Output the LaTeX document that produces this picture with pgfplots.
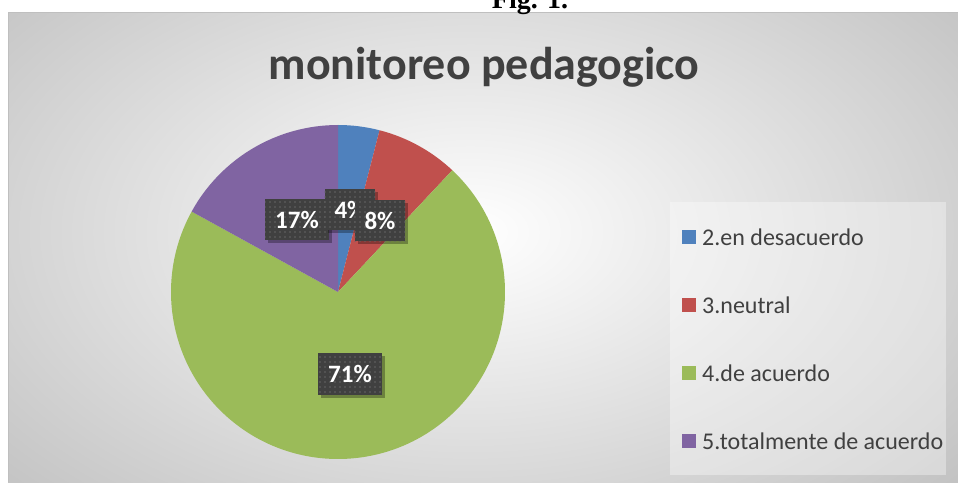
\documentclass[border=0pt]{standalone}
\usepackage{pgfplots}
\pgfplotsset{compat=1.18}
\usepackage{pgfplotstable}
\usepackage{fontspec}
\setmainfont{Carlito}
\newfontfamily\figfont{Liberation Serif}
\usetikzlibrary{shadows,patterns.meta}
\definecolor{pieblue}{HTML}{4F81BD}
\definecolor{piered}{HTML}{C0504D}
\definecolor{piegreen}{HTML}{9BBB59}
\definecolor{piepurple}{HTML}{8064A2}
\definecolor{txtgray}{HTML}{404040}
\definecolor{boxgray}{HTML}{404040}

\pgfplotstableread{
label value
{2.en desacuerdo} 4
{3.neutral} 8
{4.de acuerdo} 71
{5.totalmente de acuerdo} 17
}\piedata
\pgfplotstablegetelem{0}{value}\of\piedata \let\vA\pgfplotsretval
\pgfplotstablegetelem{1}{value}\of\piedata \let\vB\pgfplotsretval
\pgfplotstablegetelem{2}{value}\of\piedata \let\vC\pgfplotsretval
\pgfplotstablegetelem{3}{value}\of\piedata \let\vD\pgfplotsretval
\pgfmathsetmacro\aA{90}
\pgfmathsetmacro\aB{\aA-3.6*\vA}
\pgfmathsetmacro\aC{\aB-3.6*\vB}
\pgfmathsetmacro\aD{\aC-3.6*\vC}
\pgfmathsetmacro\aE{\aD-3.6*\vD}

\begin{document}
\begin{tikzpicture}[
  lbl/.style={fill=boxgray, text=white, font=\bfseries\fontsize{25}{28}\selectfont,
    minimum height=41pt, inner xsep=10pt, inner ysep=0pt,
    drop shadow={shadow xshift=3pt, shadow yshift=-3pt, fill=black, opacity=0.3},
    postaction={pattern={Dots[distance=5pt, radius=0.8pt]}, pattern color=black!60}}]
\useasboundingbox (0,0) rectangle (958pt,482pt);
\clip (0,0) rectangle (958pt,482pt);
\fill[white] (0,0) rectangle (958pt,482pt);
\begin{axis}[
  at={(0,0)}, anchor=origin,
  scale only axis, width=958pt, height=482pt,
  xmin=0, xmax=958, ymin=0, ymax=482,
  hide axis, clip=false]
% background
\begin{scope}
\clip (axis cs:8,0) rectangle (axis cs:958,469);
\shade[inner color=white, outer color=black!24] (axis cs:-180,-140) rectangle (axis cs:1120,640);
\end{scope}
\draw[black!25, line width=1pt] (axis cs:8,0) -- (axis cs:8,469) -- (axis cs:958,469);
% figure caption (cut off at the top)
\node[anchor=base, font=\figfont\bfseries\fontsize{28}{30}\selectfont] at (axis cs:530,473) {Fig. 1.};
% title
\node[anchor=base, text=txtgray, font=\bfseries\fontsize{46}{50}\selectfont] at (axis cs:484,402) {monitoreo pedagogico};
% pie
\fill[pieblue]   (axis cs:338,190) -- ++(\aA:167pt) arc[start angle=\aA, end angle=\aB, radius=167pt] -- cycle;
\fill[piered]    (axis cs:338,190) -- ++(\aB:167pt) arc[start angle=\aB, end angle=\aC, radius=167pt] -- cycle;
\fill[piegreen]  (axis cs:338,190) -- ++(\aC:167pt) arc[start angle=\aC, end angle=\aD, radius=167pt] -- cycle;
\fill[piepurple] (axis cs:338,190) -- ++(\aD:167pt) arc[start angle=\aD, end angle=\aE, radius=167pt] -- cycle;
% data labels
\node[lbl] at (axis cs:297,262) {\vD\%};
\node[lbl] at (axis cs:350,272) {\vA\%};
\node[lbl] at (axis cs:380,261) {\vB\%};
\node[lbl] at (axis cs:350,108) {\vC\%};
% legend
\fill[white, opacity=0.35] (axis cs:670,7) rectangle (axis cs:946,280);
\fill[pieblue]   (axis cs:682,238) rectangle (axis cs:696,252);
\fill[piered]    (axis cs:682,170) rectangle (axis cs:696,184);
\fill[piegreen]  (axis cs:682,102) rectangle (axis cs:696,116);
\fill[piepurple] (axis cs:682,34)  rectangle (axis cs:696,48);
\begin{scope}[every node/.style={anchor=west, text=txtgray, font=\fontsize{24}{28}\selectfont, inner sep=0pt}]
\node at (axis cs:702,245) {2.en desacuerdo};
\node at (axis cs:702,177) {3.neutral};
\node at (axis cs:702,109) {4.de acuerdo};
\node at (axis cs:702,41)  {5.totalmente de acuerdo};
\end{scope}
\end{axis}
\end{tikzpicture}
\end{document}
